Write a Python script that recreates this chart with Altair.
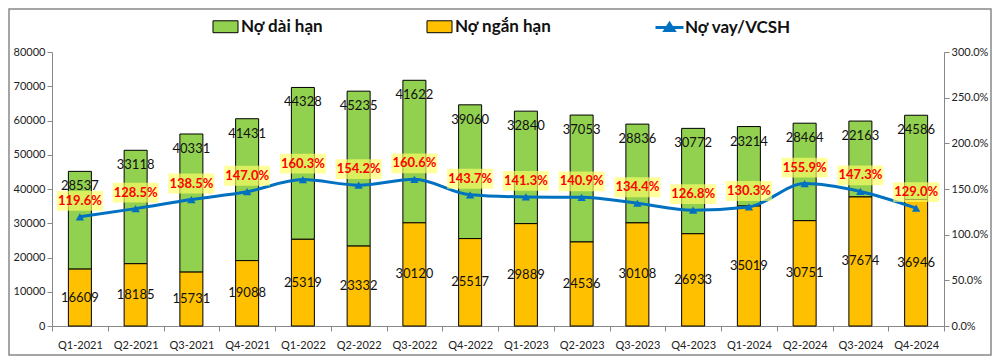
import altair as alt
import pandas as pd

quarters = ["Q1-2021", "Q2-2021", "Q3-2021", "Q4-2021", "Q1-2022", "Q2-2022", "Q3-2022", "Q4-2022",
            "Q1-2023", "Q2-2023", "Q3-2023", "Q4-2023", "Q1-2024", "Q2-2024", "Q3-2024", "Q4-2024"]
short_term = [16609, 18185, 15731, 19088, 25319, 23332, 30120, 25517,
              29889, 24536, 30108, 26933, 35019, 30751, 37674, 36946]
long_term = [28537, 33118, 40331, 41431, 44328, 45235, 41622, 39060,
             32840, 37053, 28836, 30772, 23214, 28464, 22163, 24586]
ratio_pct = [119.6, 128.5, 138.5, 147.0, 160.3, 154.2, 160.6, 143.7,
             141.3, 140.9, 134.4, 126.8, 130.3, 155.9, 147.3, 129.0]

df = pd.DataFrame({"q": quarters, "short": short_term, "long": long_term,
                   "ratio": [r / 100 for r in ratio_pct]})

FONT = "Lato"
GREEN = "#92D050"
ORANGE = "#FFC000"
BLUE = "#0070C0"

x = alt.X("q:N", sort=quarters, title=None,
          scale=alt.Scale(paddingInner=0.0, paddingOuter=0.0),
          axis=alt.Axis(labelAngle=0, tickBand="extent", labelFont=FONT, labelFontSize=11,
                        labelColor="#222", domainColor="#888", tickColor="#888", tickSize=5,
                        labelPadding=8))

yleft = alt.Scale(domain=[0, 80000])
yaxis_left = alt.Axis(values=list(range(0, 80001, 10000)), format="d", grid=False,
                      labelOverlap=False, labelFont=FONT, labelFontSize=11, labelColor="#222",
                      domainColor="#888", tickColor="#888", tickSize=5)
bar_color = alt.Scale(domain=["Nợ dài hạn", "Nợ ngắn hạn"], range=[GREEN, ORANGE])
rect_sym = "M-1.3,-0.62H1.3V0.62H-1.3Z"

base = alt.Chart(df).transform_calculate(total="datum.short + datum.long",
                                         mid="datum.short / 2")

long_bar = base.mark_bar(width=23, stroke="black", strokeWidth=1).encode(
    x=x,
    y=alt.Y("short:Q", scale=yleft, title=None, axis=yaxis_left),
    y2="total:Q",
    color=alt.Color("series:N", scale=bar_color,
                    legend=alt.Legend(title=None, orient="none", legendX=163, legendY=-36,
                                      direction="horizontal",
                                      symbolType=rect_sym, symbolSize=370,
                                      symbolStrokeColor="black", symbolStrokeWidth=1,
                                      labelFont=FONT, labelFontSize=17, labelFontWeight="bold",
                                      labelColor="#111", columnPadding=100, labelOffset=5)),
).transform_calculate(series="'Nợ dài hạn'")

short_bar = base.mark_bar(width=23, stroke="black", strokeWidth=1).encode(
    x=x,
    y=alt.Y("short:Q", scale=yleft, title=None, axis=yaxis_left),
    y2=alt.datum(0),
    color=alt.Color("series:N", scale=bar_color),
).transform_calculate(series="'Nợ ngắn hạn'")

long_txt = base.mark_text(font=FONT, fontSize=13, color="#111", baseline="middle",
                          yOffset=15).encode(
    x=x, y=alt.Y("total:Q", scale=yleft, title=None, axis=yaxis_left),
    text=alt.Text("long:Q", format="d"))

short_txt = base.mark_text(font=FONT, fontSize=13, color="#111", baseline="middle").encode(
    x=x, y=alt.Y("mid:Q", scale=yleft, title=None, axis=yaxis_left),
    text=alt.Text("short:Q", format="d"))

bars = alt.layer(long_bar, short_bar, long_txt, short_txt)

yright = alt.Scale(domain=[0, 3])
yaxis_right = alt.Axis(orient="right", format=".1%", values=[0, 0.5, 1, 1.5, 2, 2.5, 3],
                       grid=False, labelOverlap=False, labelFont=FONT, labelFontSize=11,
                       labelColor="#222", domainColor="#888", tickColor="#888", tickSize=5)
line_sym = "M-1.4,0H1.4M-0.45,0.3L0,-0.4L0.45,0.3Z"

line = base.mark_line(strokeWidth=3, interpolate="monotone").encode(
    x=x,
    y=alt.Y("ratio:Q", scale=yright, title=None, axis=yaxis_right),
    stroke=alt.Stroke("lname:N", scale=alt.Scale(domain=["Nợ vay/VCSH"], range=[BLUE]),
                      legend=alt.Legend(title=None, orient="none", legendX=606, legendY=-36,
                                        symbolType=line_sym,
                                        symbolSize=400, symbolStrokeWidth=3,
                                        symbolFillColor=BLUE, labelOffset=4,
                                        labelFont=FONT, labelFontSize=17,
                                        labelFontWeight="bold", labelColor="#111")),
).transform_calculate(lname="'Nợ vay/VCSH'")

pts = base.mark_point(shape="triangle-up", filled=True, size=70, color=BLUE, opacity=1).encode(
    x=x, y=alt.Y("ratio:Q", scale=yright, title=None, axis=yaxis_right))

box_path = "M-1,-0.43H1V0.43H-1Z"
boxes = base.mark_point(shape=box_path, filled=True, size=2116, color="#FFFF66",
                        opacity=0.65, yOffset=-16, strokeWidth=0).encode(
    x=x, y=alt.Y("ratio:Q", scale=yright, title=None, axis=yaxis_right))

pct_txt = base.mark_text(font=FONT, fontSize=13, fontWeight="bold", color="#FF0000",
                         baseline="middle", yOffset=-16).encode(
    x=x, y=alt.Y("ratio:Q", scale=yright, title=None, axis=yaxis_right),
    text=alt.Text("ratio:Q", format=".1%"))

lines = alt.layer(line, pts, boxes, pct_txt)

border = alt.Chart(pd.DataFrame({"a": [0]})).mark_rect(
    fill=None, stroke="#888", strokeWidth=1.5).encode(
    x=alt.value(-43), x2=alt.value(939), y=alt.value(-43), y2=alt.value(303))

chart = alt.layer(bars, lines, border).resolve_scale(
    y="independent", color="independent", stroke="independent"
).properties(
    width=892, height=274,
    autosize=alt.AutoSizeParams(type="none"),
    padding={"left": 44, "top": 44, "right": 48, "bottom": 30},
    background="white",
).configure_view(stroke=None)

chart.save("out.html", embed_options={"renderer": "svg", "actions": False})
